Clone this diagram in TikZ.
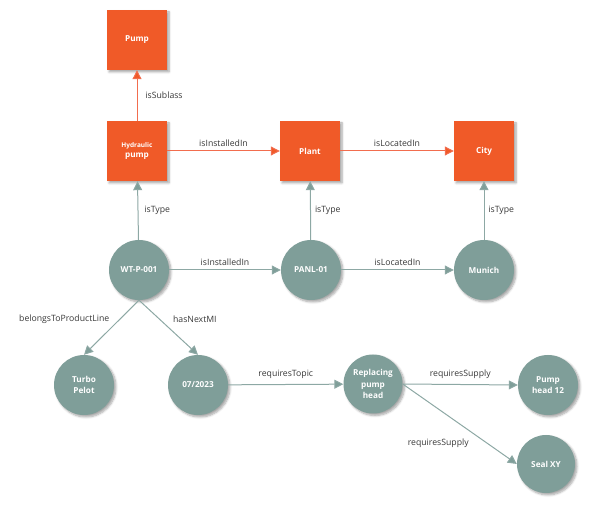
\documentclass[tikz,border=0pt]{standalone}
\usepackage{fontspec}
\setmainfont{Open Sans}
\usetikzlibrary{arrows.meta,shadows.blur}
\definecolor{orng}{HTML}{F05A28}
\definecolor{orngline}{HTML}{F26D4E}
\definecolor{tealfill}{HTML}{7F9E99}
\definecolor{tealline}{HTML}{8DA8A4}
\definecolor{lbl}{HTML}{383838}
\begin{document}
\begin{tikzpicture}[x=1pt,y=-1pt,
  shad/.style={blur shadow={shadow xshift=2pt, shadow yshift=-2pt, shadow blur steps=6, shadow opacity=35}},
  cls/.style={rectangle, fill=orng, minimum size=60pt, inner sep=0pt, text=white, align=center,
    font=\bfseries\fontsize{8.2}{10}\selectfont, shad},
  ind/.style={circle, fill=tealfill, minimum size=60pt, inner sep=0pt, text=white, align=center,
    font=\bfseries\fontsize{8.2}{11.5}\selectfont, shad},
  oarr/.style={draw=orngline, line width=1pt, -{Triangle[length=9pt,width=9pt,fill=orng]}},
  garr/.style={draw=tealline, line width=1pt, -{Triangle[length=9pt,width=9pt,fill=tealfill]}},
  lab/.style={font=\fontsize{8.7}{10}\selectfont, text=lbl, inner sep=2pt}
]
\useasboundingbox (0,0) rectangle (600,510);
% classes
\node[cls] (pump) at (137,40) {Pump};
\node[cls] (hyd) at (137,151) {{\fontsize{6.5}{8}\selectfont Hydraulic}\\pump};
\node[cls] (plant) at (310,151) {Plant};
\node[cls] (city) at (484,151) {City};
% individuals
\node[ind] (wt) at (139,270) {WT-P-001};
\node[ind] (panl) at (311,270) {PANL-01};
\node[ind] (munich) at (484,270) {Munich};
\node[ind] (turbo) at (84,385) {Turbo\\Pelot};
\node[ind] (mi) at (198,385) {07/2023};
\node[ind, minimum size=59pt] (rep) at (373,384) {Replacing\\pump\\head};
\node[ind] (ph) at (548,385) {Pump\\head 12};
\node[ind, minimum size=58pt] (seal) at (546,464) {Seal XY};
% orange edges
\draw[oarr] (hyd) -- node[lab, right, xshift=6pt]{isSublass} (pump);
\draw[oarr] (hyd) -- node[lab, above, yshift=2pt]{isInstalledIn} (plant);
\draw[oarr] (plant) -- node[lab, above, yshift=2pt]{isLocatedIn} (city);
% gray edges
\draw[garr] (wt) -- node[lab, right, xshift=4pt]{isType} (hyd);
\draw[garr] (panl) -- node[lab, right, xshift=2pt]{isType} (plant);
\draw[garr] (munich) -- node[lab, right, xshift=2pt]{isType} (city);
\draw[garr] (wt) -- node[lab, above, yshift=2pt]{isInstalledIn} (panl);
\draw[garr] (panl) -- node[lab, above, yshift=2pt]{isLocatedIn} (munich);
\draw[garr] (wt.south) -- node[lab, pos=0.35, anchor=east, xshift=-8pt]{belongsToProductLine} (turbo.north);
\draw[garr] (wt.south) -- node[lab, pos=0.35, anchor=west, xshift=11pt]{hasNextMI} (mi.north);
\draw[garr] (mi) -- node[lab, above, yshift=3pt]{requiresTopic} (rep);
\draw[garr] (rep.east) -- node[lab, above, yshift=3pt]{requiresSupply} (ph.west);
\draw[garr] (rep.east) -- node[lab, pos=0.6, anchor=north east, yshift=-4pt]{requiresSupply} (seal.west);
\end{tikzpicture}
\end{document}
